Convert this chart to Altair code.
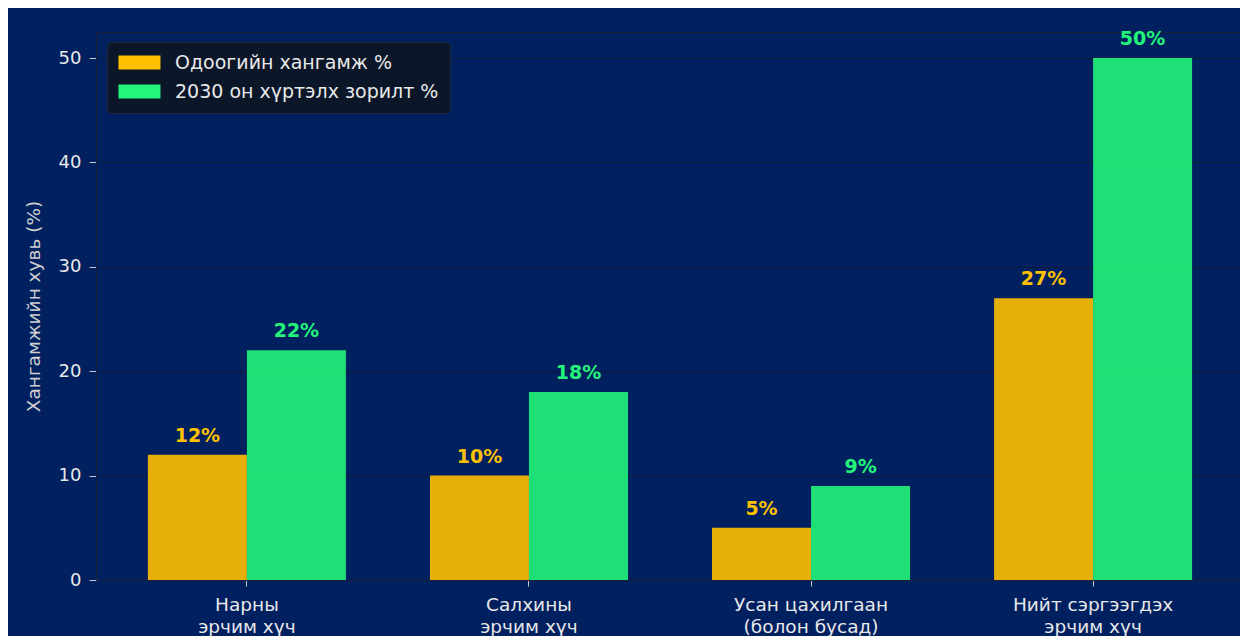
import altair as alt
import pandas as pd

categories = [
    "Нарны\nэрчим хүч",
    "Салхины\nэрчим хүч",
    "Усан цахилгаан\n(болон бусад)",
    "Нийт сэргээгдэх\nэрчим хүч",
]
series_names = ["Одоогийн хангамж %", "2030 он хүртэлх зорилт %"]
current_values = [12, 10, 5, 27]
target_values = [22, 18, 9, 50]
y_ticks = [0, 10, 20, 30, 40, 50]
y_title = "Хангамжийн хувь (%)"

series_colors = ["#FFC000", "#22F57A"]

rows = []
for cat, cur, tgt in zip(categories, current_values, target_values):
    rows.append({"category": cat, "series": series_names[0], "value": cur, "label": f"{cur}%"})
    rows.append({"category": cat, "series": series_names[1], "value": tgt, "label": f"{tgt}%"})
df = pd.DataFrame(rows)

W, H = 1144, 548
FONT = "DejaVu Sans"

color_enc = alt.Color(
    "series:N",
    sort=series_names,
    scale=alt.Scale(domain=series_names, range=series_colors),
    legend=alt.Legend(
        title=None,
        orient="none",
        legendX=11,
        legendY=10,
        symbolType="M-1.29,-1H4.71V1H-1.29Z",
        symbolSize=196,
        symbolOpacity=1,
        symbolStrokeWidth=0,
        labelFontSize=19,
        labelColor="#E8E8E8",
        labelFont=FONT,
        labelLimit=400,
        labelOffset=38,
        rowPadding=9,
        padding=11,
        fillColor="#0B1628",
        strokeColor="#1E2A40",
        cornerRadius=4,
    ),
)

base = alt.Chart(df).encode(
    x=alt.X(
        "category:N",
        sort=categories,
        scale=alt.Scale(paddingInner=0.298, paddingOuter=0.184, range=[0, 1148]),
        axis=alt.Axis(
            title=None,
            labelAngle=0,
            labelExpr="split(datum.label, '\\n')",
            labelFontSize=18.5,
            labelLineHeight=22,
            labelColor="#E8E8E8",
            labelFont=FONT,
            labelPadding=9,
            tickSize=6,
            tickColor="#C8C8C8",
            domainColor="#17223A",
            grid=False,
        ),
    ),
    xOffset=alt.XOffset("series:N", sort=series_names),
    y=alt.Y(
        "value:Q",
        scale=alt.Scale(domain=[0, 52.5], nice=False, zero=True),
        axis=alt.Axis(
            values=y_ticks,
            title=y_title,
            titleFont=FONT,
            titleFontSize=18.5,
            titleFontWeight="normal",
            titleColor="#CFCFCF",
            titleX=-63,
            titleY=H / 2,
            titleAngle=-90,
            titleAlign="center",
            titleBaseline="middle",
            labelFontSize=18,
            labelColor="#E8E8E8",
            labelFont=FONT,
            labelPadding=8,
            tickSize=7,
            tickColor="#C8C8C8",
            domainColor="#17223A",
            gridColor="#0E1A3A",
            gridWidth=1,
        ),
    ),
)

bars = base.mark_bar(opacity=0.9).encode(color=color_enc)
labels = base.mark_text(
    dy=-9, baseline="bottom", fontWeight="bold", fontSize=19, font=FONT
).encode(text="label:N", color=color_enc)

chart = (
    alt.layer(bars, labels)
    .properties(
        width=W,
        height=H,
        background="#002060",
        autosize=alt.AutoSizeParams(type="none"),
        padding={"left": 88, "top": 24, "right": 0, "bottom": 56},
    )
    .configure_view(stroke="#17223A", strokeWidth=1)
)

chart.save("out.html", embed_options={"renderer": "svg", "actions": False})
